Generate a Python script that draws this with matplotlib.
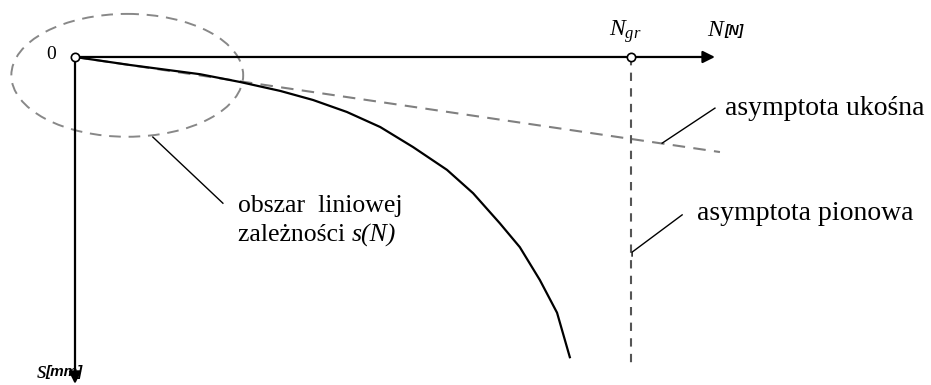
import matplotlib
matplotlib.use('Agg')
import matplotlib.pyplot as plt
from matplotlib.patches import Ellipse
from matplotlib.transforms import offset_copy

plt.rcParams['font.family'] = ['Liberation Serif', 'DejaVu Serif']
plt.rcParams['mathtext.fontset'] = 'custom'
plt.rcParams['mathtext.rm'] = 'Liberation Serif'
plt.rcParams['mathtext.it'] = 'Liberation Serif:italic'

# load N (scaled so that N_gr = 1) vs settlement s, same units on both axes
N_curve = [0.0, 0.099, 0.225, 0.297, 0.369, 0.428, 0.489, 0.549, 0.608,
           0.669, 0.716, 0.764, 0.800, 0.836, 0.867, 0.890]
s_curve = [0.0, 0.0144, 0.031, 0.045, 0.061, 0.0773, 0.0989, 0.126, 0.162,
           0.203, 0.245, 0.299, 0.342, 0.401, 0.460, 0.540]

N_gr = 1.0
oblique_N = [0.0, 1.16]
oblique_s = [0.0, 0.171]
vertical_s = [0.0, 0.558]

fig = plt.figure(figsize=(9.31, 3.85), dpi=100)
ax = fig.add_axes([0, 0, 1, 1])
ax.set_xlim(-0.1349, 1.5396)
ax.set_ylim(0.59, -0.1025)
ax.axis('off')

# axes with arrows
arr = dict(arrowstyle='-|>', color='black', lw=1.6, mutation_scale=18,
           shrinkA=0, shrinkB=0)
ax.annotate('', xy=(1.151, 0), xytext=(0, 0), arrowprops=arr,
            annotation_clip=False)
ax.annotate('', xy=(0, 0.588), xytext=(0, 0), arrowprops=arr,
            annotation_clip=False)

# asymptotes
ax.plot(oblique_N, oblique_s, color='#808080', lw=1.5, dashes=(6, 4))
ax.plot([N_gr, N_gr], vertical_s, color='#555555', lw=1.5, dashes=(4, 3.5))

# s(N) curve
ax.plot(N_curve, s_curve, color='black', lw=1.6, solid_joinstyle='round')

# linear range region
ax.add_patch(Ellipse((0.094, 0.033), 0.417, 0.221, fill=False,
                     edgecolor='#888888', lw=1.4, ls=(0, (6, 4))))

# marker circles at 0 and N_gr
ax.plot([0, N_gr], [0, 0], 'o', ms=6, mfc='white', mec='black', mew=1.2, zorder=5)

# leader lines
lk = dict(color='black', lw=1.0)
ax.plot([0.140, 0.266], [0.144, 0.263], **lk)
ax.plot([1.056, 1.151], [0.155, 0.092], **lk)
ax.plot([1.002, 1.002, 1.092], [0.358, 0.351, 0.284], **lk)

# labels
ax.text(-0.043, -0.004, '0', fontsize=14, ha='center', va='center')
ax.text(0.989, -0.045, r'$N_{gr}$', fontsize=17, ha='center', va='center')
ax.text(1.166, -0.048, 'N', fontsize=17, style='italic', ha='right', va='center')
ax.text(1.168, -0.046, '[N]', fontsize=10, style='italic', weight='bold',
        family='Liberation Sans', ha='left', va='center')
ax.text(-0.052, 0.566, 's', fontsize=18, style='italic', ha='right', va='center')
ax.text(-0.054, 0.567, '[mm]', fontsize=11, style='italic', weight='bold',
        family='Liberation Sans', ha='left', va='center')

ax.text(1.169, 0.092, 'asymptota ukośna', fontsize=20, ha='left', va='center')
ax.text(1.119, 0.281, 'asymptota pionowa', fontsize=20, ha='left', va='center')
ax.text(0.293, 0.268, 'obszar  liniowej', fontsize=18.5, ha='left', va='center')
t = ax.text(0.293, 0.321, 'zależności ', fontsize=18.5, ha='left', va='center')

# italic s(N) placed right after the upright part
fig.canvas.draw()
w = t.get_window_extent().width
ax.text(0.293, 0.321, 's(N)', fontsize=18.5, style='italic', ha='left',
        va='center', transform=offset_copy(ax.transData, fig=fig,
                                           x=w * 72 / fig.dpi, units='points'))

fig.savefig('out.png', dpi=100)
